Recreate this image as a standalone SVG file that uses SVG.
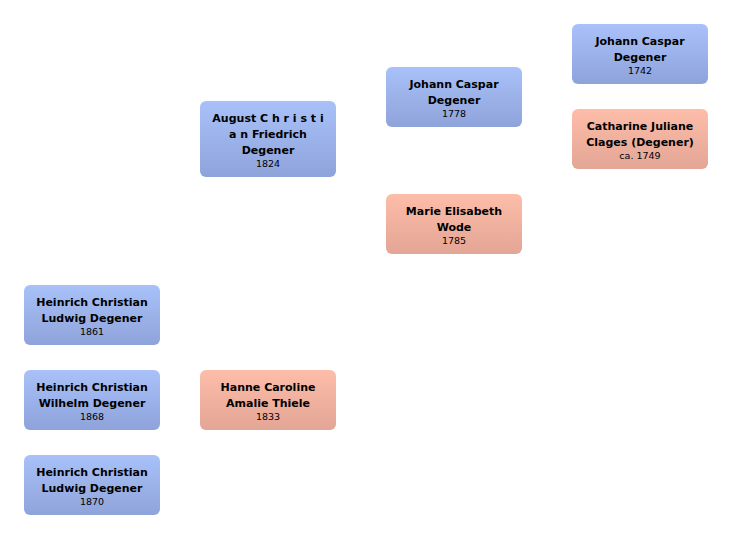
<svg xmlns="http://www.w3.org/2000/svg" width="732" height="540" viewBox="0 0 732 540">
<defs>
<linearGradient id="gm" x1="0" y1="0" x2="0" y2="1"><stop offset="0" stop-color="#a9c1f9"/><stop offset="1" stop-color="#8ea3da"/></linearGradient>
<linearGradient id="gf" x1="0" y1="0" x2="0" y2="1"><stop offset="0" stop-color="#fdbda9"/><stop offset="1" stop-color="#e3a595"/></linearGradient>
<style>
.m{fill:url(#gm)}
.f{fill:url(#gf)}
.n{font-family:"DejaVu Sans",Verdana,sans-serif;font-weight:bold;font-size:11px;fill:#000;text-anchor:middle}
.y{font-family:"DejaVu Sans",Verdana,sans-serif;font-size:9.5px;fill:#000;text-anchor:middle}
</style>
</defs>
<rect width="732" height="540" fill="#fff"/>
<g id="connectors"></g>
<g id="n1742"><rect class="m" x="572" y="24" width="136" height="60" rx="6"/><text class="n" x="640" y="45">Johann Caspar</text><text class="n" x="640" y="61">Degener</text><text class="y" x="640" y="74">1742</text></g>
<g id="n1749"><rect class="f" x="572" y="109" width="136" height="60" rx="6"/><text class="n" x="640" y="130">Catharine Juliane</text><text class="n" x="640" y="146">Clages (Degener)</text><text class="y" x="640" y="159">ca. 1749</text></g>
<g id="n1778"><rect class="m" x="386" y="67" width="136" height="60" rx="6"/><text class="n" x="454" y="88">Johann Caspar</text><text class="n" x="454" y="104">Degener</text><text class="y" x="454" y="117">1778</text></g>
<g id="n1785"><rect class="f" x="386" y="194" width="136" height="60" rx="6"/><text class="n" x="454" y="215">Marie Elisabeth</text><text class="n" x="454" y="231">Wode</text><text class="y" x="454" y="244">1785</text></g>
<g id="n1824"><rect class="m" x="200" y="101" width="136" height="76" rx="6"/><text class="n" x="268" y="122">August C h r i s t i</text><text class="n" x="268" y="138">a n Friedrich</text><text class="n" x="268" y="154">Degener</text><text class="y" x="268" y="167">1824</text></g>
<g id="n1833"><rect class="f" x="200" y="370" width="136" height="60" rx="6"/><text class="n" x="268" y="391">Hanne Caroline</text><text class="n" x="268" y="407">Amalie Thiele</text><text class="y" x="268" y="420">1833</text></g>
<g id="n1861"><rect class="m" x="24" y="285" width="136" height="60" rx="6"/><text class="n" x="92" y="306">Heinrich Christian</text><text class="n" x="92" y="322">Ludwig Degener</text><text class="y" x="92" y="335">1861</text></g>
<g id="n1868"><rect class="m" x="24" y="370" width="136" height="60" rx="6"/><text class="n" x="92" y="391">Heinrich Christian</text><text class="n" x="92" y="407">Wilhelm Degener</text><text class="y" x="92" y="420">1868</text></g>
<g id="n1870"><rect class="m" x="24" y="455" width="136" height="60" rx="6"/><text class="n" x="92" y="476">Heinrich Christian</text><text class="n" x="92" y="492">Ludwig Degener</text><text class="y" x="92" y="505">1870</text></g>
</svg>
